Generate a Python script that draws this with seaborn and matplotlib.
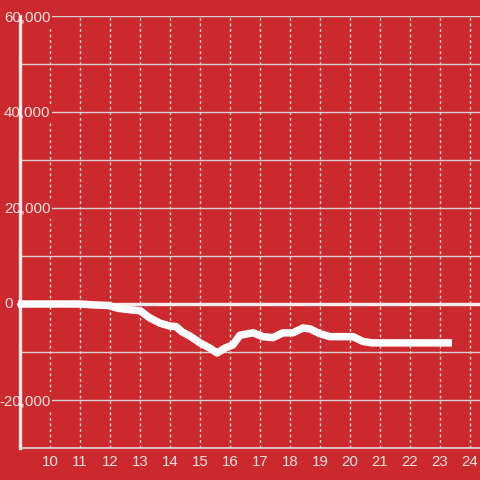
import matplotlib
matplotlib.use("Agg")
import matplotlib.pyplot as plt
import matplotlib.transforms as mtransforms
import pandas as pd
import seaborn as sns

# hours of the day vs. running total
hours = [8.93, 11.0, 11.5, 11.93, 12.27, 12.67, 13.0, 13.33, 13.67, 14.0, 14.2, 14.4,
         14.67, 15.0, 15.33, 15.57, 15.83, 16.1, 16.33, 16.77, 17.1, 17.43, 17.77,
         18.1, 18.43, 18.67, 19.0, 19.33, 20.1, 20.43, 20.73, 23.4]
values = [0, 0, -200, -300, -900, -1200, -1400, -2900, -4000, -4600, -4700, -5800,
          -6700, -8100, -9200, -10200, -9200, -8500, -6500, -6000, -6800, -7000, -6000,
          -6000, -5000, -5200, -6200, -6800, -6800, -7800, -8100, -8100]

yticks = [-30000, -20000, -10000, 0, 10000, 20000, 30000, 40000, 50000, 60000]
ytick_labels = ["", "-20,000", "", "", "", "20,000", "", "40,000", "", "60,000"]
xticks = list(range(10, 25))

bg = "#cc292e"
txt = "#f3e2e2"

df = pd.DataFrame({"hour": hours, "value": values})

sns.set_style("white")
plt.rcParams["font.family"] = ["Liberation Sans", "DejaVu Sans"]

fig = plt.figure(figsize=(4.8, 4.8), dpi=100, facecolor=bg)
ax = fig.add_axes([20 / 480, 32 / 480, 460 / 480, 432 / 480])
ax.set_facecolor(bg)

ax.set_xlim(9, 24.333)
ax.set_ylim(-30000, 60000)

ax.set_yticks(yticks)
ax.set_yticklabels(ytick_labels)
ax.set_xticks(xticks)
ax.set_xticklabels([str(t) for t in xticks])

ax.grid(axis="y", color="#d8d0d0", linewidth=1, linestyle="-")
ax.grid(axis="x", color="#e8dede", linewidth=1, linestyle=(0, (2, 2)))
ax.set_axisbelow(True)

ax.axhline(0, xmin=-0.004, color="#f7eded", linewidth=2.4, zorder=2, clip_on=False)

sns.lineplot(data=df, x="hour", y="value", ax=ax, color="white", linewidth=5.4,
             solid_capstyle="butt", solid_joinstyle="round", zorder=3, clip_on=False)

# the zero label sits left of the axis line
trans = mtransforms.blended_transform_factory(ax.transAxes, ax.transData)
ax.text(-0.016, 0, "0", transform=trans, ha="right", va="center",
        fontsize=10.8, color=txt, zorder=6)

for s in ["top", "right"]:
    ax.spines[s].set_visible(False)
ax.spines["left"].set_color("#f3eaea")
ax.spines["left"].set_linewidth(2.4)
ax.spines["bottom"].set_color("#e0d6d6")
ax.spines["bottom"].set_linewidth(1.2)

ax.tick_params(axis="y", length=0, pad=-21.8, labelsize=10.8, labelcolor=txt)
ax.tick_params(axis="x", length=0, pad=5, labelsize=10.8, labelcolor=txt)
for lab in ax.get_yticklabels():
    lab.set_horizontalalignment("right")
    lab.set_bbox(dict(facecolor=bg, edgecolor="none", pad=1.5))
    lab.set_zorder(5)

ax.set_xlabel("")
ax.set_ylabel("")

fig.savefig("out.png", dpi=100, facecolor=bg)
